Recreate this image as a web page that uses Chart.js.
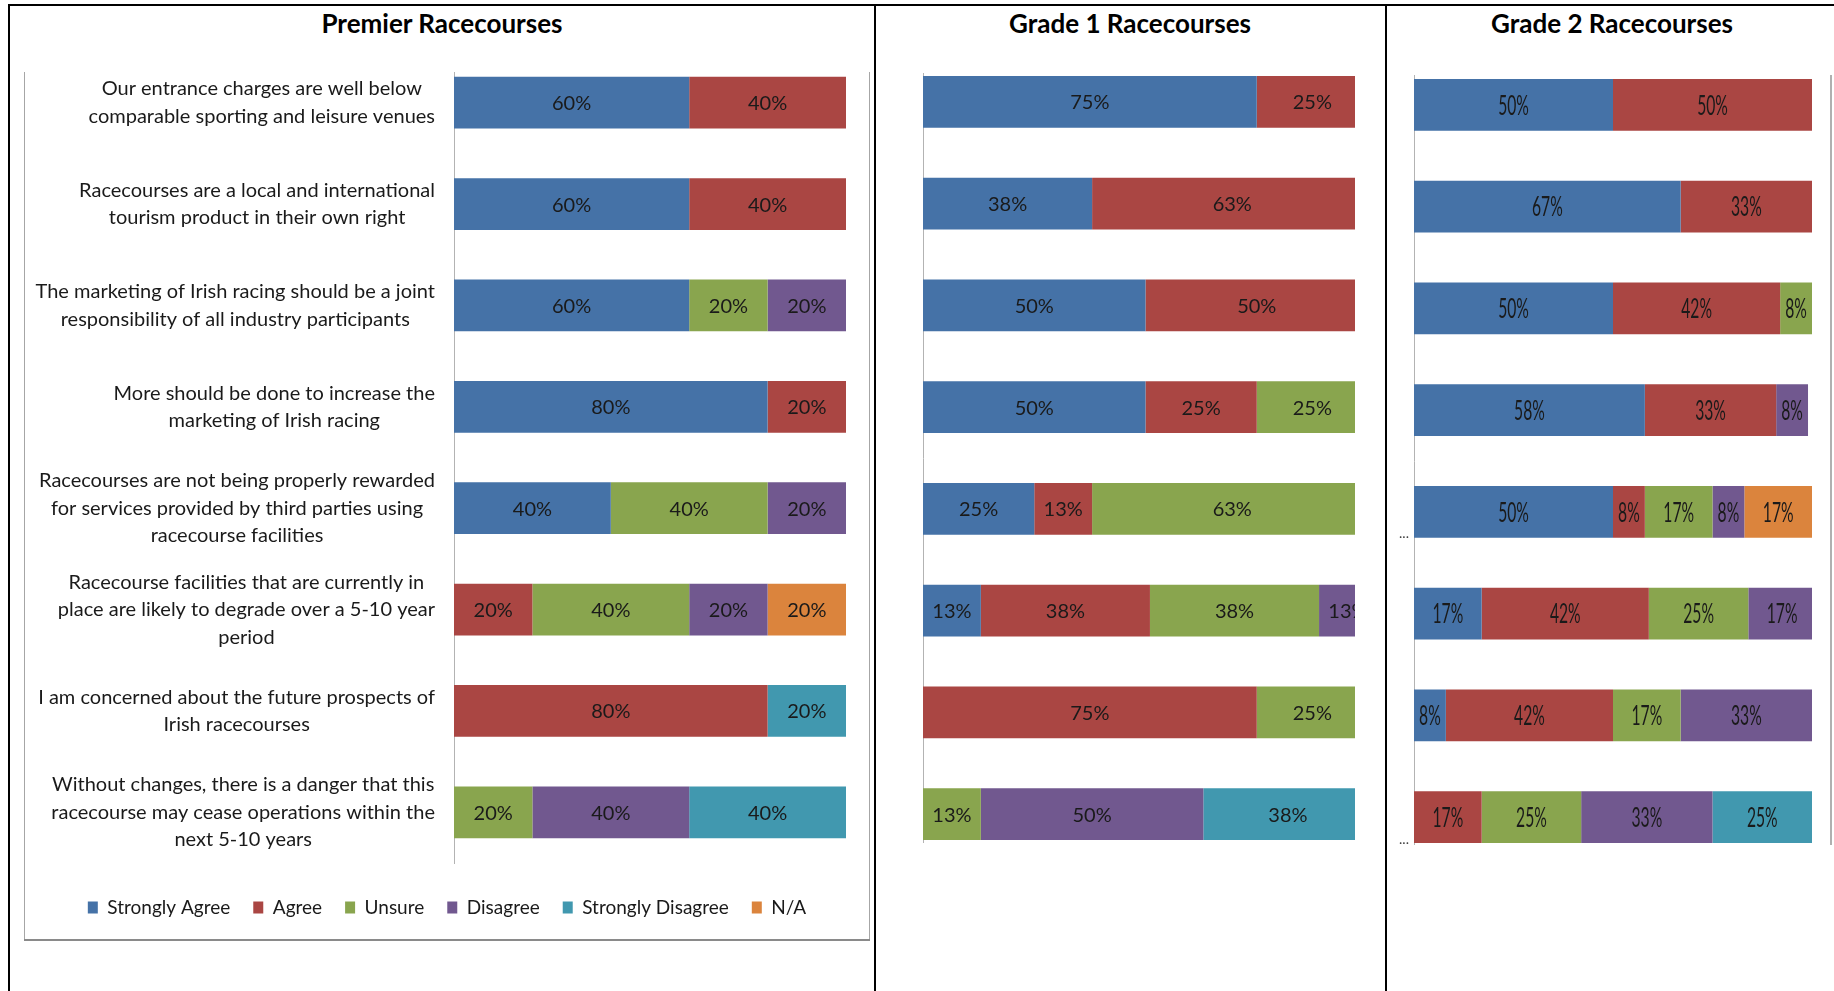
<!DOCTYPE html>
<html>
<head>
<meta charset="utf-8">
<title>Racecourse survey</title>
<script src="https://cdn.jsdelivr.net/npm/chart.js@4.4.1/dist/chart.umd.min.js"></script>
<style>
  html, body { margin: 0; padding: 0; background: #fff; }
  #page { position: relative; width: 1834px; height: 991px; overflow: hidden; font-family: Lato, "Open Sans", sans-serif; }
  .rule { position: absolute; background: #000; }
  .frame { position: absolute; background: #a6a6a6; }
  .title { position: absolute; top: 8px; width: 400px; line-height: 31px; text-align: center; font-weight: bold; font-size: 26px; color: #000; }
  .crop { position: absolute; overflow: hidden; }
  .crop canvas { position: absolute; left: 0; }
</style>
</head>
<body>
<div id="page">
  <!-- table rules -->
  <div class="rule" style="left:8px;top:4px;width:1826px;height:2px"></div>
  <div class="rule" style="left:8px;top:4px;width:2px;height:987px"></div>
  <div class="rule" style="left:874px;top:4px;width:2px;height:987px"></div>
  <div class="rule" style="left:1385px;top:4px;width:2px;height:987px"></div>

  <div class="title" style="left:242px">Premier Racecourses</div>
  <div class="title" style="left:930px">Grade 1 Racecourses</div>
  <div class="title" style="left:1412px">Grade 2 Racecourses</div>

  <!-- premier chart with its frame -->
  <div class="crop" style="left:25px;top:72px;width:844px;height:867px">
    <canvas id="premier" width="844" height="887" style="top:-20px;width:844px;height:887px"></canvas>
  </div>
  <div class="frame" style="left:24px;top:72px;width:1px;height:869px"></div>
  <div class="frame" style="left:869px;top:72px;width:1px;height:869px"></div>
  <div class="frame" style="left:24px;top:939px;width:846px;height:2px;background:#8a8a8a"></div>

  <div class="crop" style="left:877px;top:73px;width:478px;height:770px">
    <canvas id="grade1" width="495" height="814" style="top:-22px;width:495px;height:814px"></canvas>
  </div>

  <div class="crop" style="left:1388px;top:75px;width:446px;height:770px">
    <canvas id="grade2" width="446" height="814" style="top:-21px;width:446px;height:814px"></canvas>
  </div>
  <div class="frame" style="left:1830px;top:75px;width:2px;height:770px;background:#b0b0b0"></div>
</div>

<script>
// survey statements, wrapped as they appear on the axis
const questions = [
  ['Our entrance charges are well below', 'comparable sporting and leisure venues'],
  ['Racecourses are a local and international', 'tourism product in their own right'],
  ['The marketing of Irish racing should be a joint', 'responsibility of all industry participants'],
  ['More should be done to increase the', 'marketing of Irish racing'],
  ['Racecourses are not being properly rewarded', 'for services provided by third parties using', 'racecourse facilities'],
  ['Racecourse facilities that are currently in', 'place are likely to degrade over a 5-10 year', 'period'],
  ['I am concerned about the future prospects of', 'Irish racecourses'],
  ['Without changes, there is a danger that this', 'racecourse may cease operations within the', 'next 5-10 years']
];

const answers = ['Strongly Agree', 'Agree', 'Unsure', 'Disagree', 'Strongly Disagree', 'N/A'];
const answerColors = ['#4572a7', '#aa4643', '#89a54e', '#71588f', '#4198af', '#db843d'];

// one row per answer, one column per statement (percent of respondents)
const premierPct = [
  [60, 60, 60, 80, 40, null, null, null],
  [40, 40, null, 20, null, 20, 80, null],
  [null, null, 20, null, 40, 40, null, 20],
  [null, null, 20, null, 20, 20, null, 40],
  [null, null, null, null, null, null, 20, 40],
  [null, null, null, null, null, 20, null, null]
];

const grade1Pct = [
  [75, 38, 50, 50, 25, 13, null, null],
  [25, 63, 50, 25, 13, 38, 75, null],
  [null, null, null, 25, 63, 38, 25, 13],
  [null, null, null, null, null, 13, null, 50],
  [null, null, null, null, null, null, null, 38],
  [null, null, null, null, null, null, null, null]
];

const grade2Pct = [
  [50, 67, 50, 58, 50, 17, 8, null],
  [50, 33, 42, 33, 8, 42, 42, 17],
  [null, null, 8, null, 17, 25, 17, 25],
  [null, null, null, 8, 8, 17, 33, 33],
  [null, null, null, null, null, null, null, 25],
  [null, null, null, null, 17, null, null, null]
];

Chart.defaults.font.family = 'Lato, "Open Sans", sans-serif';
Chart.defaults.color = '#1a1a1a';

// writes statement text left of the axis and the percentage inside each segment
const barText = {
  id: 'barText',
  afterDatasetsDraw(chart, args, opts) {
    const ctx = chart.ctx;
    const yScale = chart.scales.y;
    const area = chart.chartArea;
    ctx.save();
    ctx.fillStyle = '#1a1a1a';
    ctx.textAlign = 'center';
    ctx.textBaseline = 'middle';

    if (opts.questions) {
      ctx.font = opts.questionSize + 'px ' + Chart.defaults.font.family;
      opts.questions.forEach((lines, i) => {
        const y = yScale.getPixelForValue(i);
        const w = Math.max(...lines.map(l => ctx.measureText(l).width));
        const cx = area.left - opts.gap - w / 2;
        lines.forEach((l, k) => {
          ctx.fillText(l, cx, y + (k - (lines.length - 1) / 2) * opts.lineHeight);
        });
      });
    }

    // leftovers of cut-off statement text
    if (opts.tails) {
      ctx.font = '14px ' + Chart.defaults.font.family;
      ctx.fillStyle = '#404040';
      opts.tails.forEach(i => {
        ctx.fillText('...', area.left - 10, yScale.getPixelForValue(i) + 22);
      });
      ctx.fillStyle = '#1a1a1a';
    }

    ctx.font = opts.valueSize + 'px ' + Chart.defaults.font.family;
    chart.data.datasets.forEach((ds, d) => {
      chart.getDatasetMeta(d).data.forEach((bar, i) => {
        const v = ds.data[i];
        if (!v) return;
        const x = (bar.x + bar.base) / 2;
        ctx.save();
        ctx.translate(x, bar.y + 1);
        ctx.scale(opts.squeeze, 1);
        ctx.fillText(v + '%', 0, 0);
        ctx.restore();
      });
    });
    ctx.restore();
  }
};

function makeDatasets(rows) {
  return answers.map((name, k) => ({
    label: name,
    data: rows[k],
    backgroundColor: answerColors[k],
    borderWidth: 0,
    barPercentage: 0.51,
    categoryPercentage: 1
  }));
}

function buildChart(id, rows, cfg) {
  return new Chart(document.getElementById(id), {
    type: 'bar',
    data: { labels: questions.map(q => q.join(' ')), datasets: makeDatasets(rows) },
    plugins: [barText],
    options: {
      indexAxis: 'y',
      responsive: false,
      animation: false,
      layout: { padding: cfg.padding },
      scales: {
        x: {
          stacked: true, min: 0, max: 100,
          display: cfg.gap > 0,
          ticks: { display: false },
          grid: { display: false, drawTicks: false },
          border: { display: false },
          afterFit: s => { s.height = cfg.gap; }
        },
        y: {
          stacked: true,
          ticks: { display: false },
          grid: { display: false, drawTicks: false },
          border: { display: true, color: '#b3b3b3', width: 1 },
          // room for the statement text
          afterFit: s => { s.width = cfg.axisWidth; }
        }
      },
      plugins: {
        tooltip: { enabled: false },
        legend: cfg.legend ? {
          display: true,
          position: 'bottom',
          labels: { boxWidth: 10, boxHeight: 12, padding: 23, font: { size: 19 }, color: '#1a1a1a' }
        } : { display: false },
        barText: cfg.text
      }
    }
  });
}

buildChart('premier', premierPct, {
  padding: { left: 23, right: 23, top: 0, bottom: 12 },
  axisWidth: 406,
  gap: 12,
  legend: true,
  text: { questions: questions, questionSize: 20, lineHeight: 27.5, gap: 19, valueSize: 20, squeeze: 1 }
});

buildChart('grade1', grade1Pct, {
  padding: { left: 0, right: 4, top: 0, bottom: 0 },
  axisWidth: 46,
  gap: 0,
  legend: false,
  text: { valueSize: 20, squeeze: 1 }
});

buildChart('grade2', grade2Pct, {
  padding: { left: 0, right: 22, top: 0, bottom: 0 },
  axisWidth: 26,
  gap: 0,
  legend: false,
  text: { valueSize: 27, squeeze: 0.58, tails: [4, 7] }
});
</script>
</body>
</html>
